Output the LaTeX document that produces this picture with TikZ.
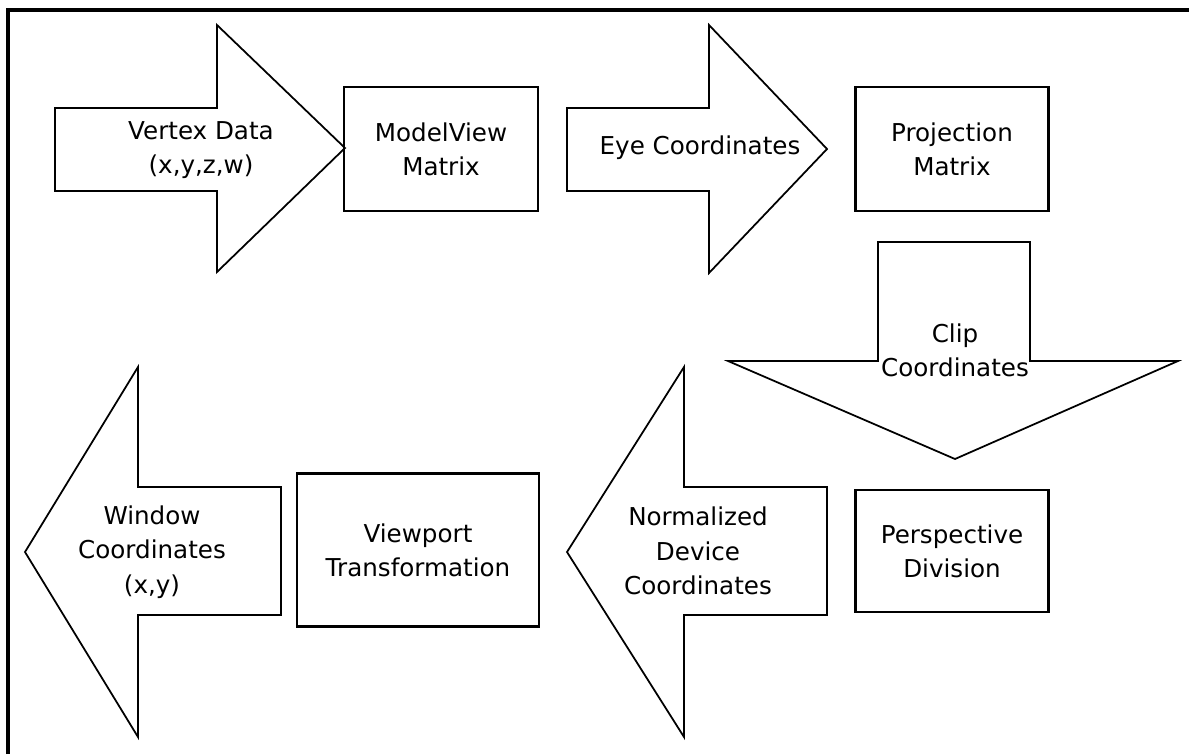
\documentclass[tikz,border=0pt]{standalone}
\usepackage{fontspec}
\setmainfont{DejaVu Sans}
\begin{document}
\begin{tikzpicture}[x=0.02cm, y=-0.02cm,
    box/.style={draw, line width=1.4pt, inner sep=0pt},
    blockarrow/.style={draw, line width=1pt, line join=miter},
    lbl/.style={align=center, font=\fontsize{14}{19.5}\selectfont}]
    \useasboundingbox (0,0) rectangle (1189,754);
    \draw[line width=2.2pt] (8,754) -- (8,10) -- (1189,10);
    % top row
    \draw[blockarrow] (55,108) -- (217,108) -- (217,25) -- (345,148) -- (217,272) -- (217,191) -- (55,191) -- cycle;
    \node[lbl] (vertex) at (201,150) {Vertex Data\\(x,y,z,w)};
    \node[box, lbl, minimum width=3.88cm, minimum height=2.48cm] (modelview) at (441,149) {ModelView\\Matrix};
    \draw[blockarrow] (567,108) -- (709,108) -- (709,25) -- (827,149) -- (709,273) -- (709,191) -- (567,191) -- cycle;
    \node[lbl] (eye) at (700,148) {Eye Coordinates};
    \node[box, lbl, minimum width=3.86cm, minimum height=2.48cm] (projection) at (952,149) {Projection\\Matrix};
    % down arrow
    \draw[blockarrow] (878,242) -- (1030,242) -- (1030,361) -- (1178,361) -- (955,459) -- (728,361) -- (878,361) -- cycle;
    \node[lbl] (clip) at (955,350) {Clip\\Coordinates};
    % bottom row
    \node[box, lbl, minimum width=3.86cm, minimum height=2.44cm] (perspective) at (952,551) {Perspective\\Division};
    \draw[blockarrow] (827,487) -- (684,487) -- (684,367) -- (567,552) -- (684,737) -- (684,615) -- (827,615) -- cycle;
    \node[lbl] (ndc) at (698,551) {Normalized\\Device\\Coordinates};
    \node[box, lbl, minimum width=4.84cm, minimum height=3.06cm] (viewport) at (418,550) {Viewport\\Transformation};
    \draw[blockarrow] (281,487) -- (138,487) -- (138,367) -- (25,552) -- (138,737) -- (138,615) -- (281,615) -- cycle;
    \node[lbl] (window) at (152,552) {Window\\Coordinates\\(x,y)};
\end{tikzpicture}
\end{document}
